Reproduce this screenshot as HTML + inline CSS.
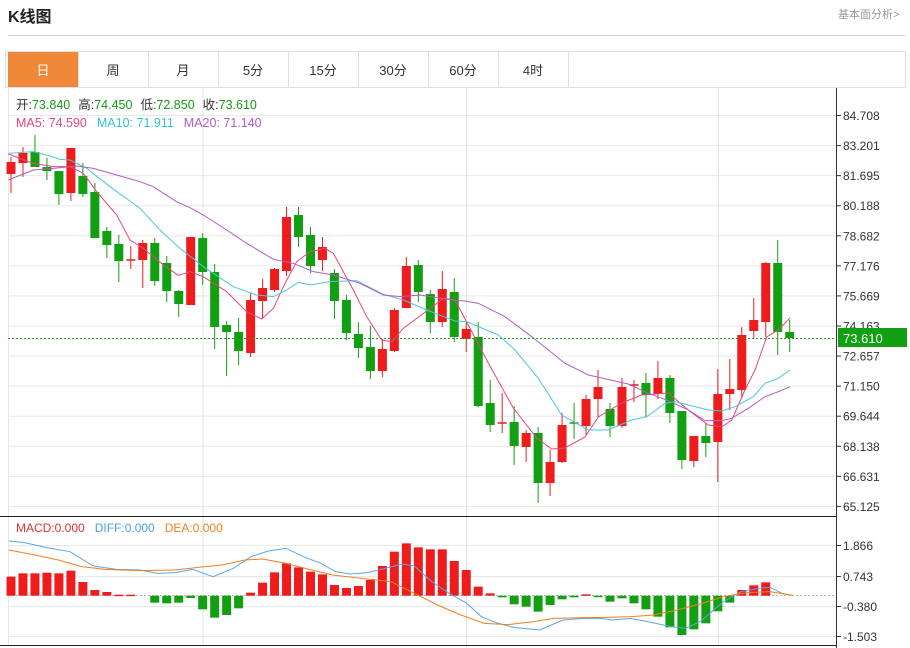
<!DOCTYPE html>
<html><head><meta charset="utf-8"><style>
body{margin:0;width:910px;height:648px;background:#fff;overflow:hidden;font-family:"Liberation Sans","Noto Sans CJK SC",sans-serif;}
svg{position:absolute;left:0;top:0}
</style></head><body>
<svg id="s" width="910" height="648" xmlns="http://www.w3.org/2000/svg" font-family="Liberation Sans, Noto Sans CJK SC, sans-serif"></svg>
<script>
const S=document.getElementById('s');let h='';
function L(x1,y1,x2,y2,c,w,d){h+=`<line x1="${x1}" y1="${y1}" x2="${x2}" y2="${y2}" stroke="${c}" stroke-width="${w||1}"${d?` stroke-dasharray="${d}"`:''}/>`;}
function T(x,y,t,c,sz,extra){h+=`<text x="${x}" y="${y}" fill="${c}" font-size="${sz||12}" ${extra||''}>${t}</text>`;}
function P(pts,c,w){h+=`<polyline points="${pts.map(p=>p.join(',')).join(' ')}" fill="none" stroke="${c}" stroke-width="${w||1}"/>`;}
// header
T(8,22,'K线图','#222',16,'font-weight="bold"');
T(838,18,'基本面分析&gt;','#999',11);
L(8,35.5,905,35.5,'#d0d0d0');
h+=`<rect x="5.5" y="51.5" width="900" height="36" fill="none" stroke="#e0e0e0"/>`;
h+=`<rect x="8" y="52" width="70" height="35" fill="#f0883a"/>`;
const tabs=['日','周','月','5分','15分','30分','60分','4时'];
tabs.forEach((t,i)=>{const cx=43+i*70;T(cx,75,t,i==0?'#fff':'#333',13,'text-anchor="middle"');if(i>0)L(8+i*70+.5,52,8+i*70+.5,87,'#e0e0e0');});
L(568.5,52,568.5,87,'#e0e0e0');
// chart frame
L(8.5,88,8.5,646,'#e6e6e6');
L(836.5,88,836.5,648,'#333');
// grid
const pt=['84.708','83.201','81.695','80.188','78.682','77.176','75.669','74.163','72.657','71.150','69.644','68.138','66.631','65.125'];
pt.forEach((t,i)=>{const y=115.5+i*30.07;L(8,y,836,y,'#e8e8e8');L(836,y,841,y,'#333');T(843,y+4.5,t,'#333',12);});
[203,466.5,718.5].forEach(x=>L(x,88,x,646,'#e3e3e3'));
L(0,516.5,836,516.5,'#222');L(0,645.5,836,645.5,'#222');
// candles [o_y,c_y,hi_y,lo_y,up]
const C=[[174,162,157,193,1],[163,153,147,177,1],[152,167,135,167,0],[167,171,158,180,0],[171,194,171,205,0],[193,148,148,201,1],[176,194,163,197,0],[192,238,183,238,0],[231,245,227,258,0],[244,261,235,282,0],[260,260,246,269,1],[260,243,240,288,1],[243,281,238,286,0],[263,291,256,302,0],[291,304,290,317,0],[305,237,237,305,1],[238,272,233,285,0],[272,327,264,349,0],[325,332,321,376,0],[332,351,318,365,0],[353,300,293,357,1],[301,288,279,318,1],[290,269,268,292,1],[271,217,207,276,1],[215,237,207,247,0],[235,266,227,273,0],[260,247,237,271,1],[273,301,269,319,0],[300,333,295,340,0],[334,348,322,358,0],[347,371,326,379,0],[371,349,339,377,1],[351,310,308,352,1],[308,266,257,308,1],[265,292,260,302,0],[294,322,290,333,0],[322,289,271,327,1],[292,337,278,342,0],[339,329,322,352,1],[337,406,322,407,0],[403,425,380,432,0],[423,423,393,433,1],[422,446,406,465,0],[447,433,430,462,1],[433,483,427,503,0],[483,462,450,496,1],[462,425,413,463,1],[423,423,403,439,0],[426,399,395,435,1],[399,387,370,417,1],[409,426,403,437,0],[426,387,378,428,1],[385,385,380,402,1],[383,395,373,417,0],[394,378,361,399,1],[378,413,375,423,0],[411,460,411,469,0],[461,436,436,467,1],[436,443,423,457,0],[442,394,369,482,1],[394,389,359,410,1],[390,335,327,398,1],[331,320,298,339,1],[322,263,262,337,1],[263,332,240,355,0],[332,338,320,352,0]];
C.forEach((c,i)=>{const x=11+i*11.98;const col=c[4]?'#ee1c1c':'#12a012';L(x,c[2],x,c[3],col,1);let t=Math.min(c[0],c[1]),b=Math.max(c[0],c[1]);if(b-t<1.5){t-=0.75;b=t+1.5;}h+=`<rect x="${x-4.5}" y="${t}" width="9" height="${b-t}" fill="${col}"/>`;});
const z2=(a)=>a.map(p=>[p[0]/3,130+p[1]/3]);const z3=(a)=>a.map(p=>[455+p[0]/3,130+p[1]/3]);
P(z2([[25,72],[100,100],[160,110],[210,110],[250,130],[290,185],[350,255],[390,330],[430,355],[490,405],[535,436],[570,425],[610,440],[680,485],[740,545],[785,567],[820,535],[855,460],[890,395],[930,365],[975,355],[1000,370],[1060,480],[1100,560],[1145,630],[1175,635],[1210,595],[1280,543],[1330,505],[1365,510]]).concat([[466.7,322],[488.3,363],[513.3,408],[536.7,438],[551.7,449],[565,448],[585,437],[598.3,417],[621.7,403],[641.7,395],[668.3,393],[688.3,410],[708.3,425],[721.7,427],[731.7,420],[745,390],[755,370],[766.7,337],[778.3,330],[790,318]]),'#e8467c');
P(z2([[25,70],[100,65],[150,78],[180,88],[210,90],[260,115],[330,170],[420,235],[480,300],[540,355],[610,410],[700,470],[770,495],[820,500],[860,480],[895,457],[930,465],[990,455],[1070,452],[1150,493],[1210,510],[1280,540],[1365,573]]).concat(z3([[35,575],[130,615],[180,660],[250,745],[320,855],[400,900],[460,900],[530,870],[575,860],[630,820],[660,815],[700,825],[760,840],[800,843],[840,830],[895,800],[930,760],[970,745],[1005,720]])),'#4dc6d8');
P(z2([[25,150],[100,120],[160,115],[230,108],[280,115],[350,135],[420,155],[460,170],[530,215],[570,233],[610,255],[680,300],[740,340],[820,388],[880,400],[940,425],[1000,435],[1080,460],[1150,495],[1200,500],[1260,495],[1365,511]]).concat(z3([[30,513],[70,520],[150,560],[230,620],[330,700],[400,735],[520,762],[580,790],[640,812],[700,840],[750,872],[800,872],[830,865],[880,835],[930,800],[970,785],[1005,770]])),'#b05cc8');
// price line
L(8,338.5,836,338.5,'#2a9a2a',1,'2,2');
h+=`<rect x="838" y="328" width="69" height="19" fill="#11a011"/>`;
T(843,343,'73.610','#fff',13);
// legend
h+=`<text x="16" y="109" font-size="12.5"><tspan fill="#333">开:</tspan><tspan fill="#139a13">73.840</tspan><tspan fill="#333" dx="8">高:</tspan><tspan fill="#139a13">74.450</tspan><tspan fill="#333" dx="8">低:</tspan><tspan fill="#139a13">72.850</tspan><tspan fill="#333" dx="8">收:</tspan><tspan fill="#139a13">73.610</tspan></text>`;
h+=`<text x="16" y="127" font-size="12.5"><tspan fill="#e8467c">MA5: 74.590</tspan><tspan fill="#33c3d3" dx="10">MA10: 71.911</tspan><tspan fill="#b05cc8" dx="10">MA20: 71.140</tspan></text>`;
// MACD
const mt=[['1.866',545.5],['0.743',576.5],['-0.380',606.5],['-1.503',636.5]];
mt.forEach(m=>{L(8,m[1],836,m[1],'#e8e8e8');L(836,m[1],841,m[1],'#333');T(843,m[1]+4.5,m[0],'#333',12);});
L(8,595.5,836,595.5,'#bbb',1,'2,2');
const B=[200,190,190,188,190,182,216,240,246,254,254,257,278,280,278,264,298,323,315,295,248,218,187,160,172,185,193,225,234,228,210,168,125,100,112,118,118,153,180,230,250,262,283,290,305,285,268,262,253,260,275,265,280,298,320,352,375,358,340,304,278,240,226,217,257,257];
B.forEach((v,i)=>{const x=11+i*11.98;const y=510+v/3,z=595.7;if(Math.abs(y-z)<0.5)return;const col=y<z?'#ee1c1c':'#12a012';const t=Math.min(y,z),b=Math.max(y,z);h+=`<rect x="${x-4.5}" y="${t}" width="9" height="${Math.max(b-t,1.5)}" fill="${col}"/>`;});
const z4=(a)=>a.map(p=>[p[0]/1.714,510+p[1]/3]);
P(z4([[15,93],[40,97],[80,113],[120,125],[160,168],[200,178],[240,180],[270,190],[300,188],[330,178],[365,200],[400,175],[430,140],[460,123],[490,115],[520,140],[550,160],[575,185],[600,192],[630,188],[660,175],[690,162],[710,168],[740,215],[770,250],[800,280],[825,320],[850,338],[880,352],[925,360],[965,330],[1000,325],[1030,325],[1050,330],[1080,325],[1110,335],[1150,350],[1175,355],[1200,335],[1240,275],[1270,245],[1300,235],[1320,232],[1340,250],[1360,257]]),'#5aa6e6');
P(z4([[15,120],[60,135],[100,150],[140,170],[180,178],[240,182],[300,180],[340,172],[380,165],[420,150],[450,147],[490,160],[530,178],[570,195],[620,205],[670,215],[710,250],[750,285],[790,315],[830,340],[870,344],[910,336],[950,325],[1000,323],[1040,322],[1080,320],[1120,315],[1160,300],[1200,282],[1240,260],[1280,248],[1320,245],[1360,257]]),'#f08020');
h+=`<text x="16" y="532" font-size="12"><tspan fill="#e83030">MACD:0.000</tspan><tspan fill="#4a9fe0" dx="10">DIFF:0.000</tspan><tspan fill="#f08020" dx="10">DEA:0.000</tspan></text>`;
S.innerHTML=h;
</script>
</body></html>
